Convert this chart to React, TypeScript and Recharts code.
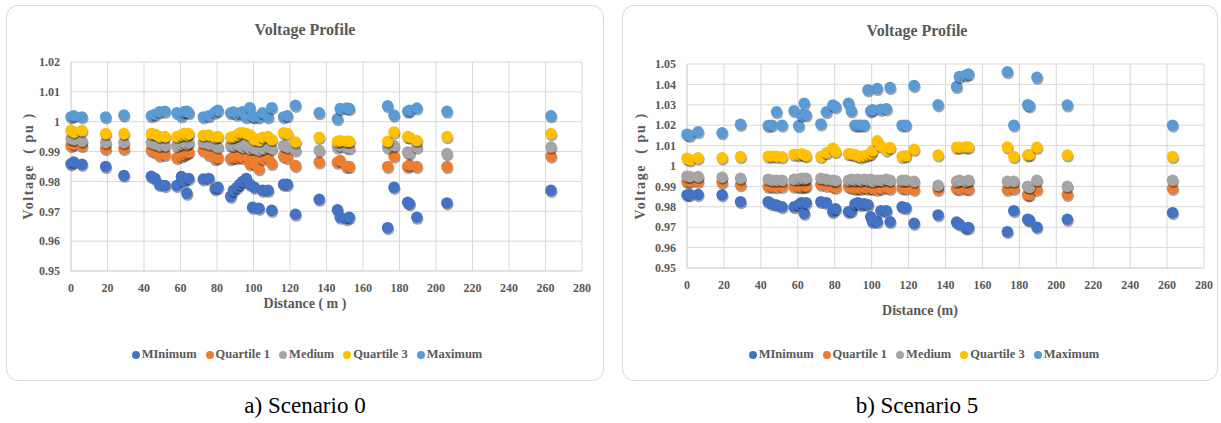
import React from "react";
import { ScatterChart, Scatter, XAxis, YAxis, CartesianGrid } from "recharts";

// Distance of each bus from the transformer (m)
const distance = [
  0, 1.5, 6, 19, 29, 44, 46, 48.5, 51.5, 58, 60.5, 62, 63.5, 64.5, 72.5, 75.5, 79, 80.5, 87.5, 89,
  91, 92.5, 94, 96, 98, 99.5, 100.5, 103, 105, 108, 110, 116.5, 118.5, 123, 136, 146, 147.5, 151,
  152.5, 173.5, 177, 184.5, 185.5, 189.5, 206, 263,
];

// Scenario 0
const s0Minimum = [
  0.9859, 0.9865, 0.9857, 0.985, 0.982, 0.9817, 0.981, 0.9789, 0.9786, 0.9786, 0.9816, 0.98, 0.976,
  0.981, 0.9808, 0.981, 0.9775, 0.978, 0.975, 0.977, 0.978, 0.979, 0.98, 0.981, 0.979, 0.9713, 0.978,
  0.971, 0.977, 0.977, 0.9703, 0.979, 0.979, 0.969, 0.974, 0.9705, 0.968, 0.9675, 0.968, 0.9645,
  0.978, 0.973, 0.9725, 0.968, 0.9728, 0.977,
];
const s0Quartile1 = [
  0.992, 0.9925, 0.992, 0.991, 0.991, 0.9904, 0.99, 0.9887, 0.989, 0.988, 0.9885, 0.989, 0.9895,
  0.9898, 0.9904, 0.989, 0.9876, 0.988, 0.9876, 0.988, 0.988, 0.9885, 0.988, 0.9885, 0.9859, 0.988,
  0.986, 0.9842, 0.9876, 0.988, 0.986, 0.9885, 0.988, 0.9853, 0.9865, 0.9864, 0.987, 0.985, 0.985,
  0.985, 0.9885, 0.985, 0.9855, 0.985, 0.985, 0.9885,
];
const s0Medium = [
  0.9943, 0.994, 0.9935, 0.993, 0.993, 0.993, 0.9925, 0.992, 0.992, 0.992, 0.9925, 0.993, 0.9925,
  0.993, 0.993, 0.9925, 0.992, 0.9915, 0.992, 0.992, 0.9925, 0.992, 0.9915, 0.992, 0.991, 0.9915,
  0.991, 0.9905, 0.991, 0.9915, 0.991, 0.992, 0.9915, 0.9905, 0.9904, 0.9915, 0.992, 0.9915, 0.9912,
  0.9915, 0.992, 0.9898, 0.9895, 0.9915, 0.9893, 0.9915,
];
const s0Quartile3 = [
  0.9971, 0.9965, 0.997, 0.996, 0.996, 0.996, 0.9958, 0.995, 0.995, 0.995, 0.9955, 0.996, 0.9955,
  0.996, 0.9954, 0.9955, 0.9948, 0.995, 0.9948, 0.995, 0.9955, 0.9962, 0.9963, 0.996, 0.9955,
  0.9948, 0.994, 0.9937, 0.9948, 0.995, 0.994, 0.9963, 0.996, 0.9932, 0.9948, 0.9934, 0.9936,
  0.9934, 0.9934, 0.9934, 0.9965, 0.995, 0.9948, 0.9937, 0.995, 0.996,
];
const s0Maximum = [
  1.0016, 1.002, 1.0016, 1.0016, 1.0022, 1.002, 1.0025, 1.0033, 1.0035, 1.003, 1.002, 1.0033, 1.0035,
  1.003, 1.0016, 1.002, 1.0032, 1.0038, 1.003, 1.0032, 1.0025, 1.003, 1.0033, 1.0016, 1.0047,
  1.0018, 1.0016, 1.0016, 1.003, 1.0016, 1.0047, 1.0016, 1.002, 1.0055, 1.003, 1.001, 1.0044,
  1.0046, 1.0044, 1.0053, 1.0022, 1.0035, 1.0038, 1.0046, 1.0035, 1.002,
];

// Scenario 5
const s5Minimum = [
  0.9858, 0.986, 0.986, 0.9858, 0.9825, 0.9825, 0.9815, 0.9809, 0.98, 0.98, 0.981, 0.982, 0.9768,
  0.982, 0.9825, 0.982, 0.9776, 0.979, 0.9776, 0.978, 0.9814, 0.982, 0.981, 0.9815, 0.981, 0.9751,
  0.9727, 0.9727, 0.978, 0.978, 0.9727, 0.98, 0.9795, 0.9719, 0.976, 0.9725, 0.9715, 0.9695, 0.9698,
  0.9678, 0.9781, 0.9739, 0.9735, 0.97, 0.9739, 0.9771,
];
const s5Quartile1 = [
  0.9923, 0.9925, 0.9925, 0.992, 0.9907, 0.99, 0.99, 0.9898, 0.99, 0.99, 0.99, 0.9898, 0.99, 0.9902,
  0.991, 0.9905, 0.99, 0.9895, 0.99, 0.9895, 0.989, 0.9892, 0.989, 0.9895, 0.989, 0.9895, 0.989,
  0.9885, 0.989, 0.9895, 0.989, 0.9893, 0.989, 0.9885, 0.9885, 0.989, 0.9888, 0.989, 0.9888,
  0.9885, 0.989, 0.9858, 0.986, 0.9885, 0.986, 0.989,
];
const s5Medium = [
  0.995, 0.9948, 0.9948, 0.9945, 0.994, 0.9935, 0.993, 0.993, 0.993, 0.9935, 0.9935, 0.994, 0.9935,
  0.994, 0.994, 0.9935, 0.993, 0.9928, 0.993, 0.9935, 0.993, 0.9935, 0.993, 0.9935, 0.993, 0.9935,
  0.9925, 0.993, 0.993, 0.9935, 0.993, 0.993, 0.993, 0.9925, 0.9905, 0.9925, 0.993, 0.9925, 0.993,
  0.9925, 0.9925, 0.99, 0.9895, 0.993, 0.99, 0.993,
];
const s5Quartile3 = [
  1.0038, 1.003, 1.004, 1.004, 1.0046, 1.0047, 1.0048, 1.0047, 1.0045, 1.0057, 1.0055, 1.006, 1.0055,
  1.005, 1.0046, 1.0065, 1.0087, 1.007, 1.006, 1.0058, 1.0055, 1.005, 1.0045, 1.005, 1.0055, 1.006,
  1.0075, 1.0123, 1.0098, 1.0078, 1.009, 1.0046, 1.005, 1.0082, 1.0054, 1.0092, 1.0092, 1.0093,
  1.0093, 1.0093, 1.0046, 1.0054, 1.0056, 1.0092, 1.0054, 1.0046,
];
const s5Maximum = [
  1.0155, 1.015, 1.0168, 1.0163, 1.0204, 1.0198, 1.02, 1.0266, 1.02, 1.0271, 1.0198, 1.025, 1.0307,
  1.025, 1.0206, 1.0266, 1.0299, 1.029, 1.0307, 1.027, 1.02, 1.02, 1.02, 1.02, 1.0373, 1.027, 1.0275,
  1.038, 1.0278, 1.028, 1.0384, 1.02, 1.02, 1.0394, 1.03, 1.0389, 1.0438, 1.0445, 1.0451, 1.0462,
  1.02, 1.03, 1.0295, 1.0435, 1.0299, 1.02,
];

const seriesNames = ["MInimum", "Quartile 1", "Medium", "Quartile 3", "Maximum"];
const seriesColors = ["#4472C4", "#ED7D31", "#A5A5A5", "#FFC000", "#5B9BD5"];

const xTicks = [0, 20, 40, 60, 80, 100, 120, 140, 160, 180, 200, 220, 240, 260, 280];
const yTicksS0 = [0.95, 0.96, 0.97, 0.98, 0.99, 1.0, 1.01, 1.02];
const yTicksS5 = [0.95, 0.96, 0.97, 0.98, 0.99, 1.0, 1.01, 1.02, 1.03, 1.04, 1.05];

const FONT = '"Liberation Serif", "DejaVu Serif", "Noto Serif", "Times New Roman", Times, serif';
const TEXT = "#595959";

const toPoints = (vals: number[]) => distance.map((d, i) => ({ x: d, y: vals[i] }));

const Dot = (props: any) => {
  const { cx, cy, fill } = props;
  if (cx == null || cy == null) return null;
  return (
    <g>
      <circle cx={cx + 0.8} cy={cy + 1.8} r={5.8} fill="#000" opacity={0.35} />
      <circle cx={cx} cy={cy} r={5.8} fill={fill} />
    </g>
  );
};

const fmt = (v: number) => String(Number(v.toFixed(2)));

type ChartProps = {
  left: number;
  width: number;
  yTicks: number[];
  series: number[][];
  margin: { top: number; right: number; bottom: number; left: number };
};

const VoltageChart = ({ left, width, yTicks, series, margin }: ChartProps) => (
  <div style={{ position: "absolute", left, top: 0 }}>
    <ScatterChart width={width} height={390} margin={margin}>
      <CartesianGrid stroke="#d9d9d9" strokeWidth={1} />
      <XAxis
        type="number"
        dataKey="x"
        domain={[0, 280]}
        ticks={xTicks}
        interval={0}
        height={30}
        tickLine={false}
        axisLine={{ stroke: "#d9d9d9" }}
        tickMargin={6}
        tick={{ fill: TEXT, fontSize: 12, fontWeight: 700, fontFamily: FONT }}
      />
      <YAxis
        type="number"
        dataKey="y"
        domain={[yTicks[0], yTicks[yTicks.length - 1]]}
        ticks={yTicks}
        interval={0}
        width={50}
        tickLine={false}
        axisLine={{ stroke: "#d9d9d9" }}
        tickMargin={5}
        tickFormatter={fmt}
        tick={{ fill: TEXT, fontSize: 12, fontWeight: 700, fontFamily: FONT }}
      />
      {series.map((vals, i) => (
        <Scatter
          key={seriesNames[i]}
          name={seriesNames[i]}
          data={toPoints(vals)}
          fill={seriesColors[i]}
          shape={Dot}
          isAnimationActive={false}
        />
      ))}
    </ScatterChart>
  </div>
);

const Legend = ({ cx }: { cx: number }) => (
  <div
    style={{
      position: "absolute",
      left: cx - 200,
      width: 400,
      top: 347,
      display: "flex",
      justifyContent: "center",
      gap: 9,
      fontFamily: FONT,
      fontWeight: 700,
      fontSize: 12.5,
      color: TEXT,
      whiteSpace: "nowrap",
    }}
  >
    {seriesNames.map((n, i) => (
      <div key={n} style={{ display: "flex", alignItems: "center", gap: 2 }}>
        <span
          style={{
            display: "inline-block",
            width: 8,
            height: 8,
            borderRadius: 4,
            background: seriesColors[i],
          }}
        />
        <span>{n}</span>
      </div>
    ))}
  </div>
);

const Label = ({ x, y, text, size, weight = 700, color = TEXT, rotate = false, spacing = 0 }: any) => (
  <div
    style={{
      position: "absolute",
      left: x - 150,
      top: y - 15,
      width: 300,
      height: 30,
      lineHeight: "30px",
      textAlign: "center",
      fontFamily: FONT,
      fontWeight: weight,
      fontSize: size,
      letterSpacing: spacing,
      color,
      whiteSpace: "pre",
      transform: rotate ? "rotate(-90deg)" : undefined,
    }}
  >
    {text}
  </div>
);

export default function App() {
  return (
    <div
      style={{
        position: "absolute",
        left: 0,
        top: 0,
        width: 1221,
        height: 423,
        background: "#fff",
        overflow: "hidden",
      }}
    >
      <div
        style={{
          position: "absolute",
          left: 6,
          top: 5,
          width: 596,
          height: 374,
          border: "1px solid #d9d9d9",
          borderRadius: 12,
        }}
      />
      <div
        style={{
          position: "absolute",
          left: 622,
          top: 5,
          width: 594,
          height: 374,
          border: "1px solid #d9d9d9",
          borderRadius: 12,
        }}
      />
      <VoltageChart
        left={0}
        width={610}
        yTicks={yTicksS0}
        series={[s0Minimum, s0Quartile1, s0Medium, s0Quartile3, s0Maximum]}
        margin={{ top: 62, right: 28, bottom: 89, left: 21 }}
      />
      <VoltageChart
        left={612}
        width={609}
        yTicks={yTicksS5}
        series={[s5Minimum, s5Quartile1, s5Medium, s5Quartile3, s5Maximum]}
        margin={{ top: 64, right: 17, bottom: 92, left: 25 }}
      />
      <Label x={305} y={30} text="Voltage Profile" size={16} />
      <Label x={917} y={31} text="Voltage Profile" size={16} />
      <Label x={29} y={166} text="Voltage  ( pu )" size={14} rotate spacing={1.6} />
      <Label x={641} y={166} text="Voltage  ( pu )" size={14} rotate spacing={1.6} />
      <Label x={305} y={304} text="Distance ( m )" size={14} />
      <Label x={920} y={311} text="Distance (m)" size={14} />
      <Legend cx={307} />
      <Legend cx={924} />
      <Label x={305} y={406} text="a) Scenario 0" size={23} weight={400} color="#000" />
      <Label x={917} y={406} text="b) Scenario 5" size={23} weight={400} color="#000" />
    </div>
  );
}
